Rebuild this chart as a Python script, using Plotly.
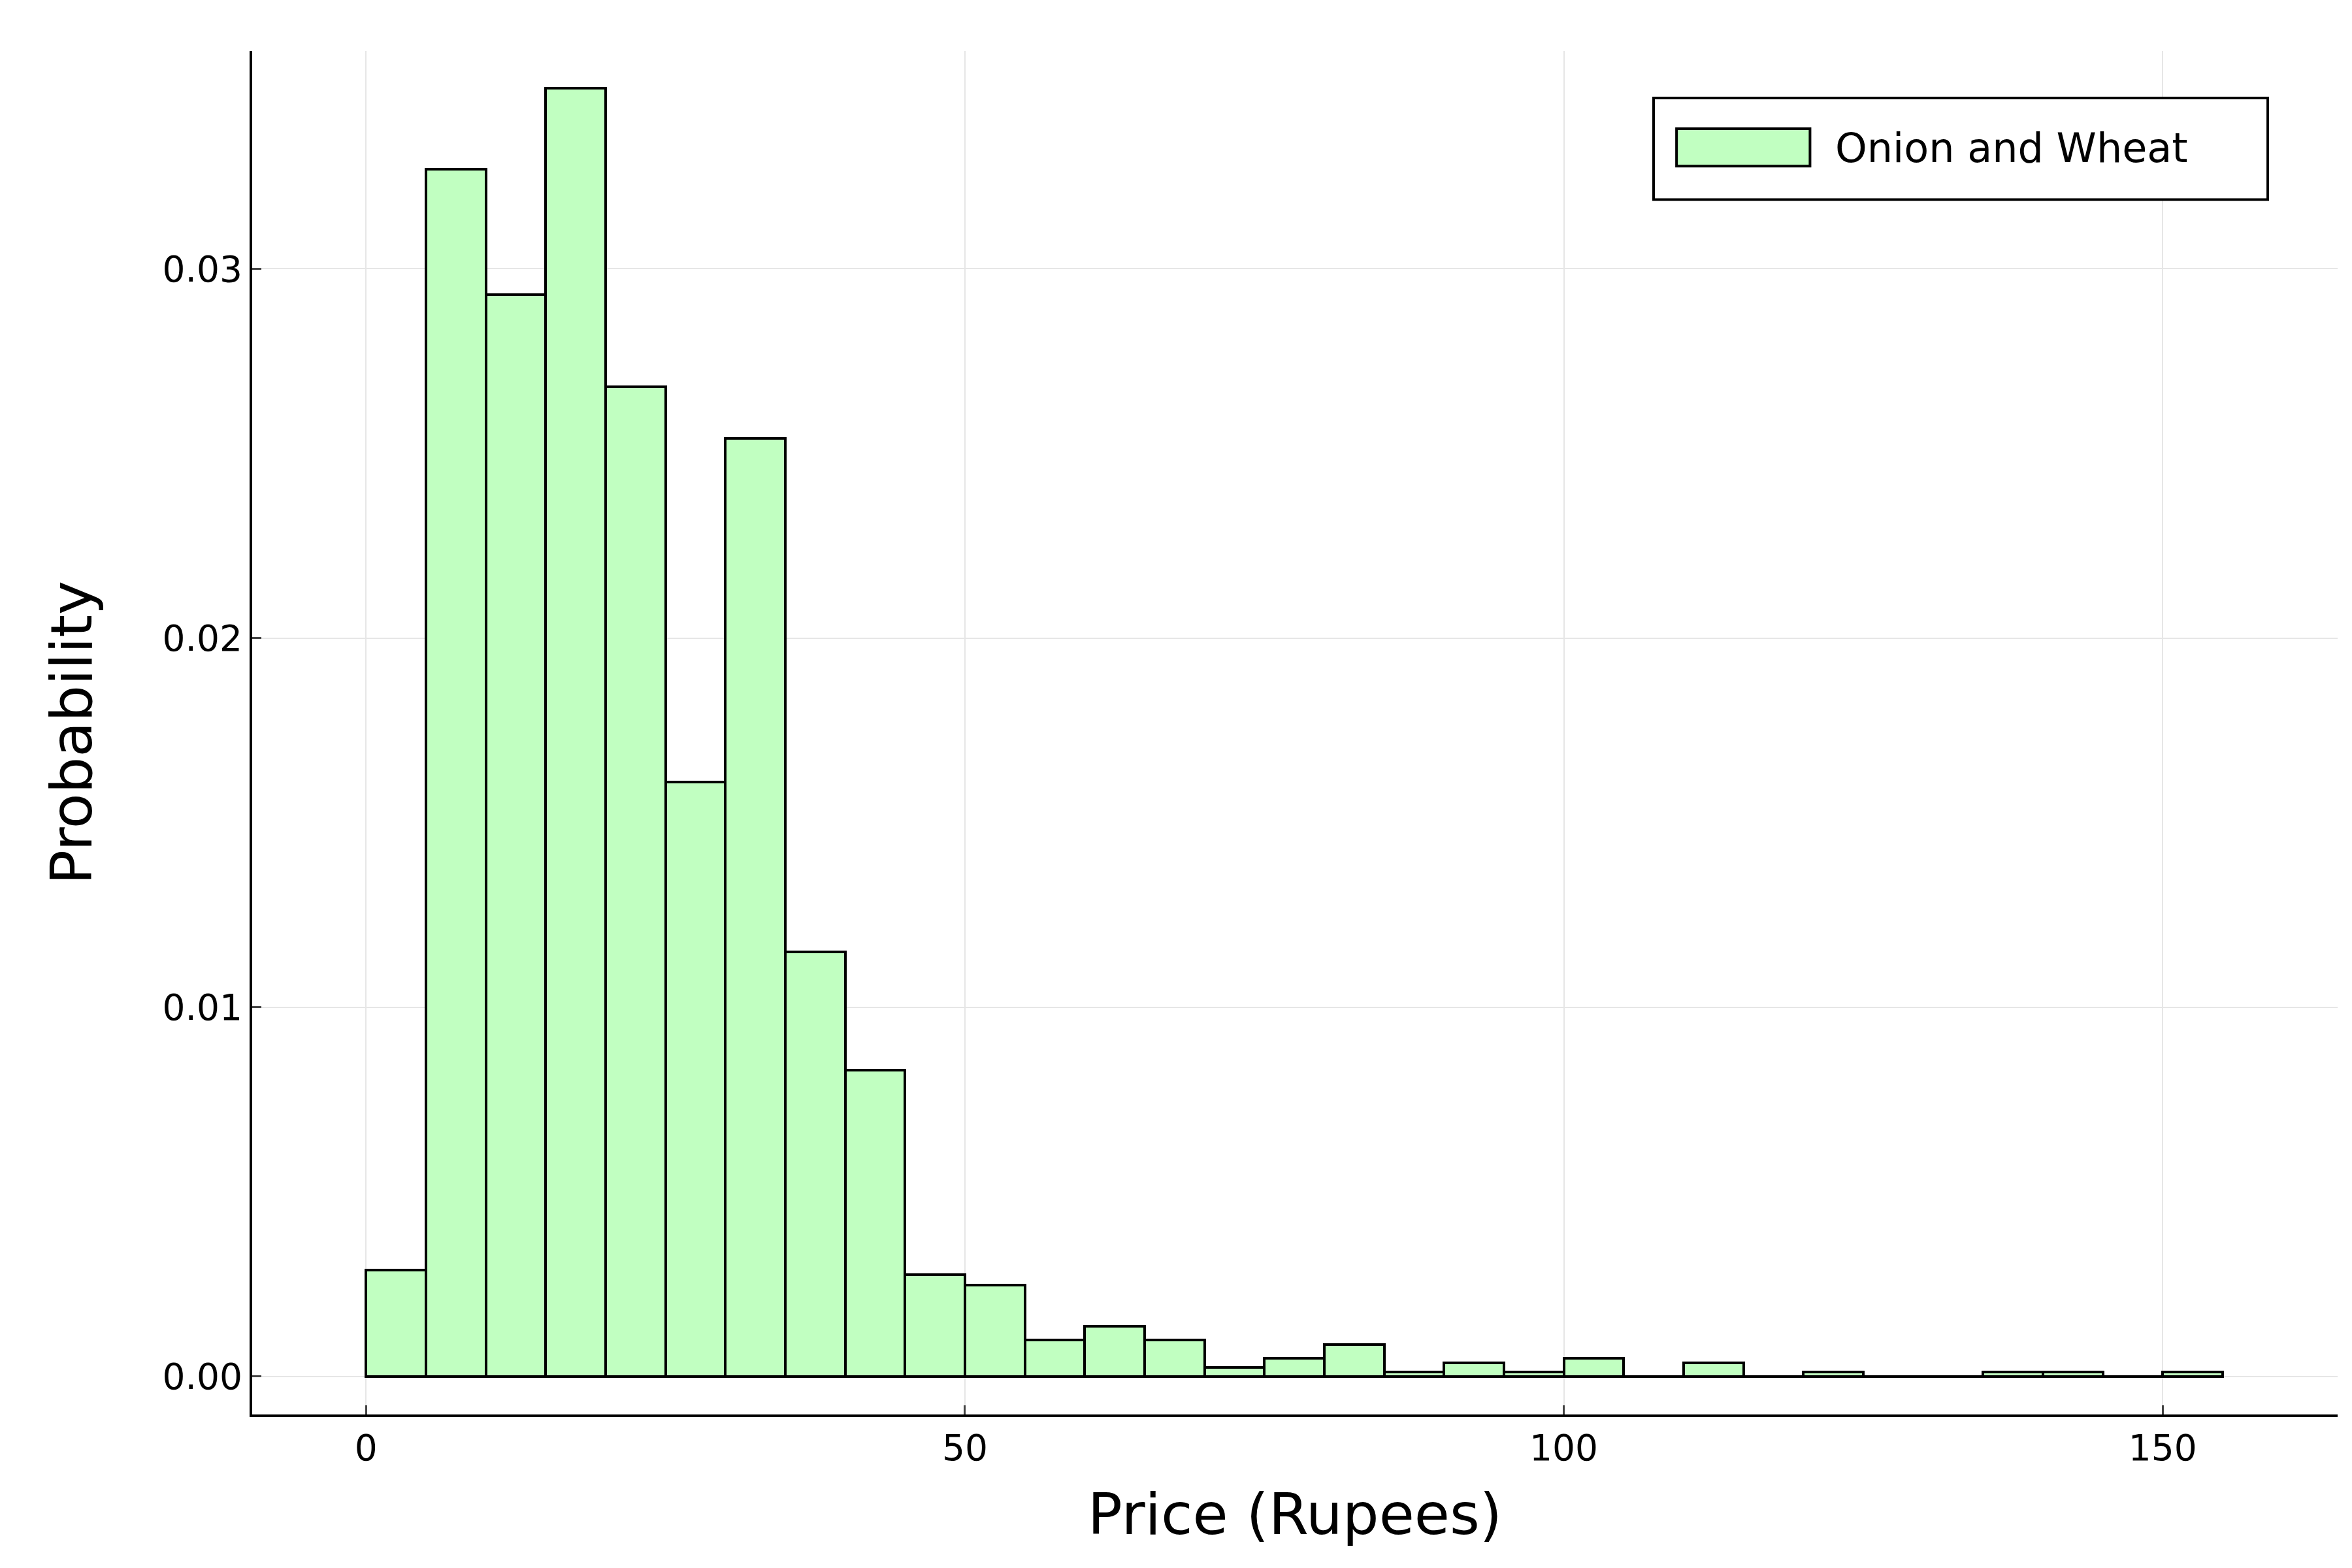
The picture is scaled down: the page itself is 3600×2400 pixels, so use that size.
import plotly.graph_objects as go

bin_left = [0,5,10,15,20,25,30,35,40,45,50,55,60,65,70,75,80,85,90,95,100,105,110,115,120,125,130,135,140,145,150]
prob = [0.00288,0.0327,0.0293,0.0349,0.0268,0.0161,0.0254,0.0115,0.0083,0.00276,0.00247,0.00099,0.00136,0.00099,0.00025,0.00049,0.00087,0.00012,0.00037,0.00012,0.00049,0.0,0.00037,0.0,0.00012,0.0,0.0,0.00012,0.00012,0.0,0.00012]
bin_width = 5
series_name = "Onion and Wheat"

fig = go.Figure(go.Bar(
    x=[b + bin_width/2 for b in bin_left], y=prob, width=bin_width,
    name=series_name, showlegend=False,
    marker=dict(color="#c1ffc1", line=dict(color="black", width=4)),
))
font = "DejaVu Sans"
fig.update_layout(
    width=3600, height=2400, plot_bgcolor="white", paper_bgcolor="white",
    margin=dict(l=378, r=30, t=70, b=243),
    font=dict(family=font, size=55, color="black"),
    bargap=0,
    xaxis=dict(range=[-9.5, 164.6], tickvals=[0,50,100,150], showgrid=True,
               gridcolor="#e6e6e6", gridwidth=2, showline=True, linecolor="black", linewidth=4,
               ticks="inside", ticklen=14, tickwidth=3, zeroline=False,
               title=dict(text="Price (Rupees)", font=dict(size=88), standoff=40)),
    yaxis=dict(range=[-0.00103, 0.0359], tickvals=[0,0.01,0.02,0.03],
               ticktext=["0.00","0.01","0.02","0.03"], showgrid=True,
               gridcolor="#e6e6e6", gridwidth=2, showline=True, linecolor="black", linewidth=4,
               ticks="inside", ticklen=14, tickwidth=3, zeroline=False,
               title=dict(text="Probability", font=dict(size=88), standoff=80)),
    shapes=[
        dict(type="rect", xref="paper", yref="paper", x0=0.672, x1=0.9665, y0=0.891, y1=0.9655,
             line=dict(color="black", width=4), fillcolor="white"),
        dict(type="rect", xref="paper", yref="paper", x0=0.683, x1=0.747, y0=0.9155, y1=0.943,
             line=dict(color="black", width=4), fillcolor="#c1ffc1"),
    ],
    annotations=[dict(text=series_name, xref="paper", yref="paper", x=0.7585, y=0.929,
                      xanchor="left", yanchor="middle", showarrow=False, font=dict(size=62))],
)
fig.write_html("out.html")
